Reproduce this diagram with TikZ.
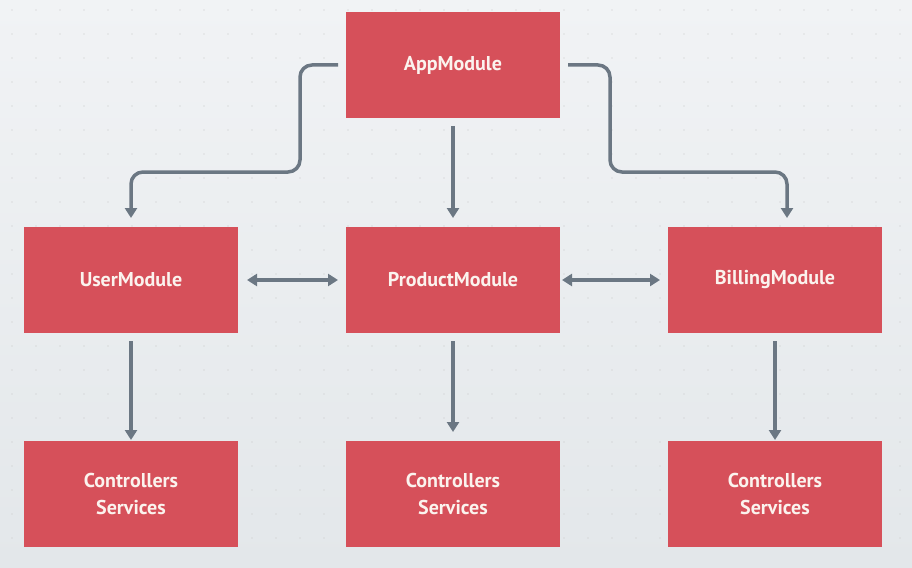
\documentclass[tikz,border=0pt]{standalone}
\usepackage{fontspec}
\setmainfont{PT Sans}
\usetikzlibrary{arrows.meta}
\definecolor{modred}{HTML}{D6505A}
\definecolor{modtext}{HTML}{FBF3EE}
\definecolor{linkgray}{HTML}{6B7783}
\definecolor{boardtop}{HTML}{F1F3F5}
\definecolor{boardbot}{HTML}{E3E7EA}
\begin{document}
\begin{tikzpicture}[x=1pt,y=-1pt,line width=3.5pt]
	\tikzstyle{module}=[fill=modred,text=modtext,font=\bfseries\fontsize{20}{27}\selectfont,minimum width=214pt,minimum height=106pt,align=center,inner sep=0pt,outer sep=0pt]
	\tikzstyle{link}=[draw=linkgray,-{Triangle[width=12pt,length=10pt]},rounded corners=12pt]
	\tikzstyle{both}=[link,{Triangle[width=12pt,length=10pt]}-{Triangle[width=12pt,length=10pt]}]

	% board
	\shade[top color=boardtop,bottom color=boardbot] (0,0) rectangle (912,567);
	\foreach \x in {12,36,...,900}
		\foreach \y in {10,34,...,560}
			\fill[black!22] (\x,\y) circle (0.7pt);

	\node[module](app) at (453,65){AppModule};
	\node[module](user) at (131,280){UserModule};
	\node[module](prod) at (453,280){ProductModule};
	\node[module](bill) at (775,280){BillingModule};
	\node[module](userpart) at (131,494){Controllers\\Services};
	\node[module](prodpart) at (453,494){Controllers\\Services};
	\node[module](billpart) at (775,494){Controllers\\Services};

	\coordinate (lbend) at (300,172);
	\coordinate (rbend) at (610,172);

	\draw[link,shorten >=9pt] ([xshift=-8pt]app.west) -| (lbend) -| (user.north);
	\draw[link,shorten >=9pt] ([xshift=8pt]app.east) -| (rbend) -| ([xshift=12pt]bill.north);
	\draw[link,shorten <=8pt,shorten >=9pt] (app) -- (prod);
	\draw[both,shorten <=9pt,shorten >=8pt] (user) -- (prod);
	\draw[both,shorten <=2pt,shorten >=8pt] (prod) -- (bill);
	\draw[link,shorten <=8pt,shorten >=1pt] (user) -- (userpart);
	\draw[link,shorten <=8pt,shorten >=9pt] (prod) -- (prodpart);
	\draw[link,shorten <=8pt,shorten >=1pt] (bill) -- (billpart);
\end{tikzpicture}
\end{document}
